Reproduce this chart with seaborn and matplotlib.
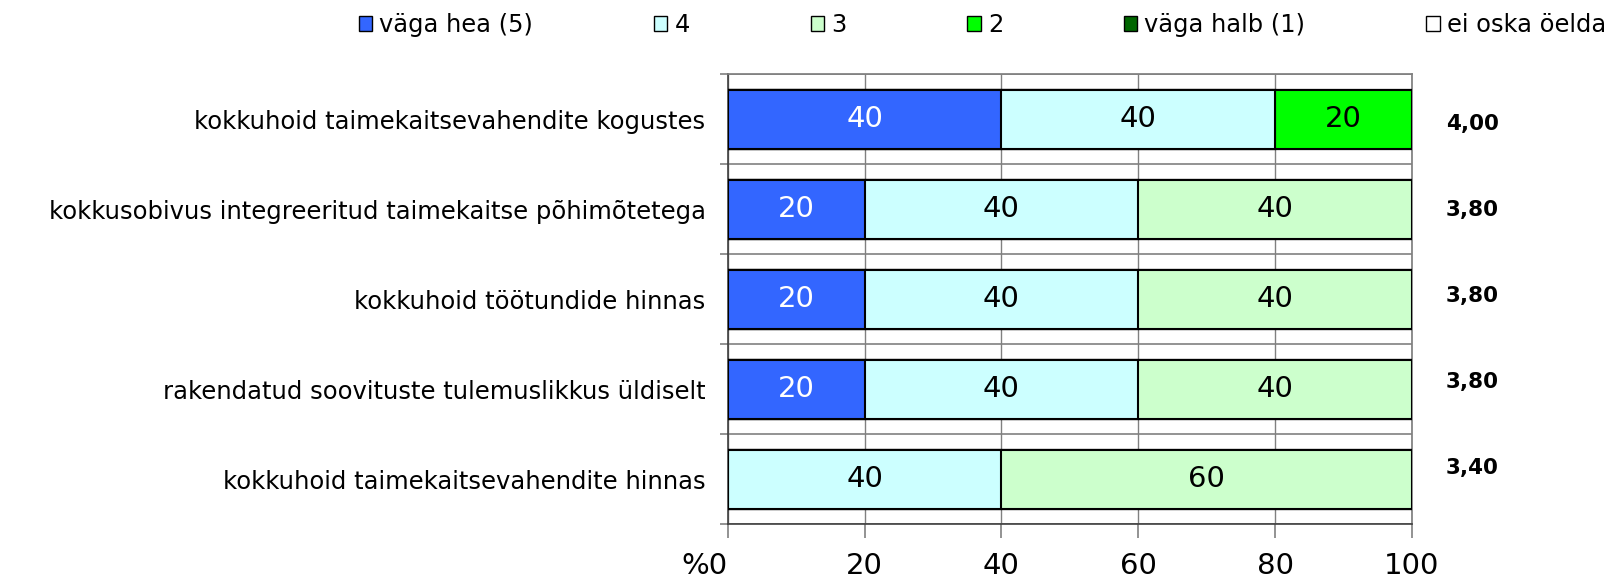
#!/usr/bin/env python3
import matplotlib
matplotlib.use("Agg")
import matplotlib.pyplot as plt
import numpy as np
import pandas as pd
import seaborn as sns
from matplotlib.patches import Patch

sns.set_theme(style="white")
plt.rcParams["font.family"] = ["DejaVu Sans"]
plt.rcParams.update({"text.color": "black", "xtick.color": "black",
                     "ytick.color": "black", "axes.labelcolor": "black"})

categories = [
    "kokkuhoid taimekaitsevahendite kogustes",
    "kokkusobivus integreeritud taimekaitse põhimõtetega",
    "kokkuhoid töötundide hinnas",
    "rakendatud soovituste tulemuslikkus üldiselt",
    "kokkuhoid taimekaitsevahendite hinnas",
]
levels = ["väga hea (5)", "4", "3", "2", "väga halb (1)", "ei oska öelda"]
scores = [5, 4, 3, 2, 1]
v5 = [40, 20, 20, 20, 0]
v4 = [40, 40, 40, 40, 40]
v3 = [0, 40, 40, 40, 60]
v2 = [20, 0, 0, 0, 0]
v1 = [0, 0, 0, 0, 0]
v0 = [0, 0, 0, 0, 0]
colors = ["#3366FF", "#CCFFFF", "#CCFFCC", "#00FF00", "#006600", "#FFFFFF"]
xtick_labels = ["%0", "20", "40", "60", "80", "100"]

values = np.array([v5, v4, v3, v2, v1, v0], dtype=float)
cum = values.cumsum(axis=0)
graded = values[:5]
means = (graded * np.array(scores)[:, None]).sum(axis=0) / graded.sum(axis=0)

fig, ax = plt.subplots(figsize=(16.21, 5.83), dpi=100)
fig.subplots_adjust(left=0.449, right=0.871, top=0.873, bottom=0.101)

# stacked bars: draw cumulative totals from the widest down
for i in range(len(levels) - 1, -1, -1):
    df = pd.DataFrame({"cat": categories, "cum": cum[i]})
    sns.barplot(data=df, x="cum", y="cat", orient="h", color=colors[i],
                saturation=1, width=0.655, edgecolor="black", linewidth=1.5,
                ax=ax, zorder=3)

for i in range(len(levels)):
    for j in range(len(categories)):
        if values[i, j] > 0:
            xc = cum[i, j] - values[i, j] / 2
            ax.text(xc, j, f"{values[i, j]:.0f}", ha="center", va="center",
                    fontsize=21, color="white" if i == 0 else "black", zorder=5)

# mean score boxes sit a little off the bar centres, as in the source
for j, m in enumerate(means):
    ax.text(1.05, 0.06 + j * 0.955, f"{m:.2f}".replace(".", ","),
            transform=ax.get_yaxis_transform(), ha="left", va="center",
            fontsize=15.5, fontweight="bold")

ax.set_xlim(0, 100)
ax.set_ylim(len(categories) - 0.5, -0.5)
ax.set_xticks([0, 20, 40, 60, 80, 100])
ax.set_xticklabels(xtick_labels, fontsize=21)
ax.get_xticklabels()[0].set_ha("right")
ax.set_yticks(range(len(categories)))
ax.set_yticklabels(categories, fontsize=17.5)
ax.set_yticks(np.arange(-0.5, len(categories), 1.0), minor=True)
ax.set_xlabel("")
ax.set_ylabel("")

ax.tick_params(axis="y", which="major", length=0, pad=16)
ax.tick_params(axis="y", which="minor", length=6, color="#808080", width=1.2, left=True)
ax.tick_params(axis="x", which="major", length=10, color="#808080", width=1.2,
               direction="out", bottom=True, pad=10)
ax.grid(True, axis="x", which="major", color="#808080", linewidth=1, zorder=0)
ax.grid(True, axis="y", which="minor", color="#808080", linewidth=1.2, zorder=0)
ax.grid(False, axis="y", which="major")
for side in ["top", "right"]:
    ax.spines[side].set_color("#808080")
for side in ["left", "bottom"]:
    ax.spines[side].set_color("#404040")
    ax.spines[side].set_linewidth(1.2)
ax.set_facecolor("white")

handles = [Patch(facecolor=c, edgecolor="black", linewidth=1) for c in colors]
fig.legend(handles, levels, loc="upper center", bbox_to_anchor=(0.606, 1.015),
           ncol=6, frameon=False, fontsize=17.4, handlelength=0.55, handleheight=0.55,
           handletextpad=0.3, columnspacing=5.0)

fig.savefig("out.png", dpi=100)
